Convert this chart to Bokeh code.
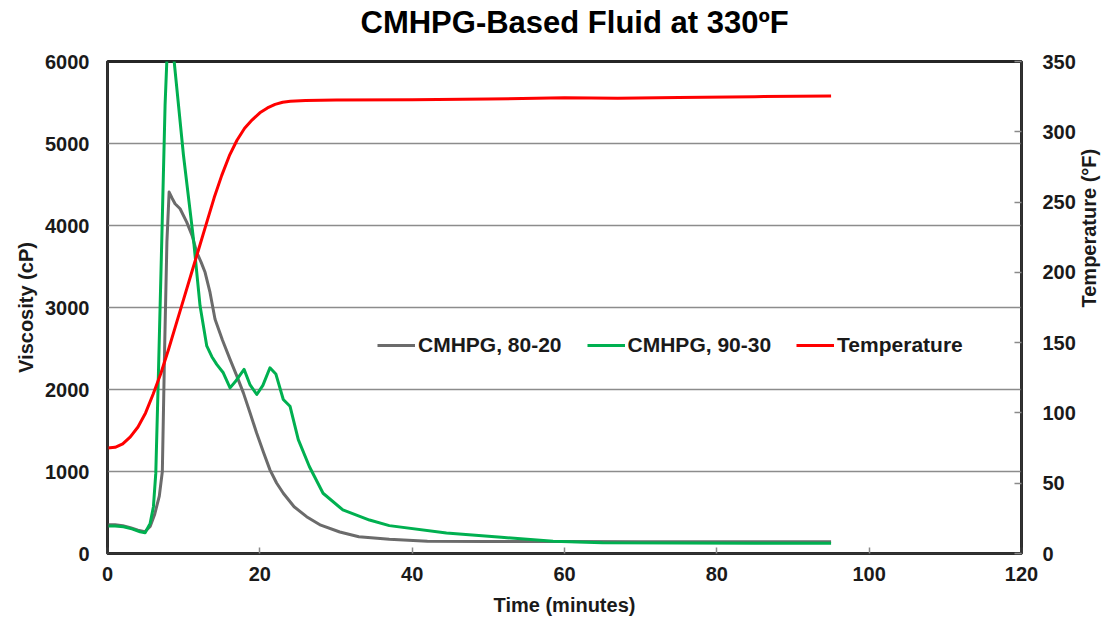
import math
from bokeh.plotting import figure
from bokeh.models import (Range1d, LinearAxis, FixedTicker, Legend, LegendItem, Title)
from bokeh.embed import file_html
from bokeh.resources import INLINE

# ---------------- data ----------------
title_text = "CMHPG-Based Fluid at 330ºF"
x_label = "Time (minutes)"
y_label = "Viscosity (cP)"
y2_label = "Temperature (°F)"

x_ticks = [0, 20, 40, 60, 80, 100, 120]
y_ticks = [0, 1000, 2000, 3000, 4000, 5000, 6000]
y2_ticks = [0, 50, 100, 150, 200, 250, 300, 350]

series_names = ["CMHPG, 80-20", "CMHPG, 90-30", "Temperature"]

t_8020 = [0, 1, 2, 3, 4, 4.9, 5.6, 6.2, 6.8, 7.2, 7.5, 7.8, 8.09, 8.5, 8.87, 9.53,
          10.4, 11.1, 11.72, 12.3, 12.81, 13.46, 14.12, 15.1, 16.09, 17.0, 17.84,
          18.7, 19.58, 20.5, 21.33, 22.2, 23.08, 24.5, 26.14, 28.0, 30.5, 33.0,
          37.0, 42.0, 50.0, 60.0, 70.0, 80.0, 95.0]
v_8020 = [350, 350, 340, 315, 285, 265, 330, 480, 700, 1000, 2500, 3800, 4408, 4330,
          4265, 4204, 4041, 3880, 3673, 3550, 3429, 3184, 2857, 2600, 2367, 2160, 1959,
          1720, 1469, 1230, 1020, 860, 735, 570, 449, 345, 262, 205, 175, 150, 146,
          145, 143, 142, 142]

t_9030 = [0, 1, 2.1, 3.2, 4.28, 4.94, 5.6, 6.03, 6.34, 6.69, 7.13, 7.56, 7.85, 8.15,
          8.45, 8.7, 9.97, 11.28, 12.15, 13.03, 13.7, 14.34, 15.2, 16.09, 16.9, 17.93,
          18.7, 19.6, 20.4, 21.33, 22.1, 23.08, 23.96, 25.05, 26.5, 28.3, 30.9, 34.4,
          37.0, 44.5, 51.7, 58.5, 65.0, 75.0, 85.0, 95.0]
v_9030 = [335, 335, 327, 300, 265, 253, 367, 571, 980, 2204, 3837, 5469, 6150, 6020,
          6150, 6050, 4860, 3840, 3020, 2531, 2400, 2306, 2204, 2020, 2110, 2245, 2060,
          1939, 2050, 2265, 2190, 1878, 1796, 1388, 1061, 735, 531, 408, 340, 250, 197,
          148, 130, 128, 125, 125]

t_temp = [0, 1, 2, 3, 4, 5, 6, 7, 8, 9, 10, 11, 12, 13, 14, 15, 16, 17, 18, 19, 20,
          21, 22, 23, 24, 26, 30, 40, 50, 60, 67, 75, 85, 95]
v_temp = [75, 75.5, 78, 83, 90, 100, 113.5, 128, 145, 163, 181, 199, 217, 235, 253,
          269, 283, 294, 302.5, 308.5, 313.5, 317, 319.5, 321, 321.7, 322.3, 322.6,
          322.8, 323.3, 324.2, 323.8, 324.4, 325, 325.5]

colors = ["#6b6b6b", "#00b050", "#ff0000"]

FONT = "Liberation Sans"

# ---------------- figure ----------------
p = figure(width=1113, height=623, output_backend="svg", toolbar_location=None,
           x_range=Range1d(0, 120), y_range=Range1d(0, 6000),
           min_border_left=107, min_border_right=91, min_border_top=61,
           min_border_bottom=70, background_fill_color="white",
           border_fill_color="white")
p.extra_y_ranges = {"temp": Range1d(0, 350)}

# main title (outermost); a blank spacer title sits between it and the frame
p.title.text = title_text
p.title.text_font = FONT
p.title.text_font_size = "31px"
p.title.text_font_style = "bold"
p.title.text_color = "#000000"
p.title.align = "left"
p.title.offset = 253
p.title.standoff = 0

spacer = Title(text=" ", text_font=FONT, text_font_size="18px", standoff=0)
p.add_layout(spacer, "above")

p.outline_line_color = "#262626"
p.outline_line_width = 3

p.xgrid.visible = False
p.ygrid.grid_line_color = "#8c8c8c"
p.ygrid.grid_line_width = 1.5

# bottom axis
xa = p.xaxis[0]
xa.ticker = FixedTicker(ticks=x_ticks)
xa.axis_label = x_label
xa.major_tick_in = 6
xa.major_tick_out = 0
xa.minor_tick_line_color = None
xa.major_tick_line_color = "#8a8a8a"
xa.major_tick_line_width = 1.5
xa.axis_line_color = "#333333"
xa.axis_line_width = 2
xa.major_label_standoff = 13
xa.axis_label_standoff = 10

# left axis
ya = p.yaxis[0]
ya.ticker = FixedTicker(ticks=y_ticks)
ya.axis_label = y_label
ya.major_tick_in = 0
ya.major_tick_out = 0
ya.minor_tick_line_color = None
ya.major_tick_line_color = None
ya.axis_line_color = "#333333"
ya.axis_line_width = 2
ya.major_label_standoff = 18
ya.axis_label_standoff = 5

# right axis
ra = LinearAxis(y_range_name="temp", ticker=FixedTicker(ticks=y2_ticks),
                axis_label=y2_label)
ra.major_tick_in = 7
ra.major_tick_out = 0
ra.minor_tick_line_color = None
ra.major_tick_line_color = "#8a8a8a"
ra.major_tick_line_width = 1.5
ra.axis_line_color = "#333333"
ra.axis_line_width = 2
ra.major_label_standoff = 21
ra.axis_label_standoff = 10
ra.axis_label_orientation = math.pi / 2
p.add_layout(ra, "right")

for ax in (xa, ya, ra):
    ax.major_label_text_font = FONT
    ax.major_label_text_font_size = "20px"
    ax.major_label_text_font_style = "bold"
    ax.major_label_text_color = "#1a1a1a"
    ax.axis_label_text_font = FONT
    ax.axis_label_text_font_size = "20px"
    ax.axis_label_text_font_style = "bold"
    ax.axis_label_text_color = "#1a1a1a"

# ---------------- lines ----------------
r1 = p.line(t_8020, v_8020, line_color=colors[0], line_width=3, line_join="round")
r2 = p.line(t_9030, v_9030, line_color=colors[1], line_width=3, line_join="round")
r3 = p.line(t_temp, v_temp, line_color=colors[2], line_width=3, line_join="round",
            y_range_name="temp")

legend = Legend(items=[LegendItem(label=series_names[0], renderers=[r1]),
                       LegendItem(label=series_names[1], renderers=[r2]),
                       LegendItem(label=series_names[2], renderers=[r3])],
                orientation="horizontal", location=(270, 196),
                glyph_width=38, glyph_height=20, label_height=20,
                label_standoff=3, spacing=25, padding=0, margin=0,
                border_line_color=None, background_fill_alpha=0,
                label_text_font=FONT, label_text_font_size="21px",
                label_text_font_style="bold", label_text_color="#1a1a1a")
p.add_layout(legend)

open("out.html", "w").write(file_html(p, INLINE))
